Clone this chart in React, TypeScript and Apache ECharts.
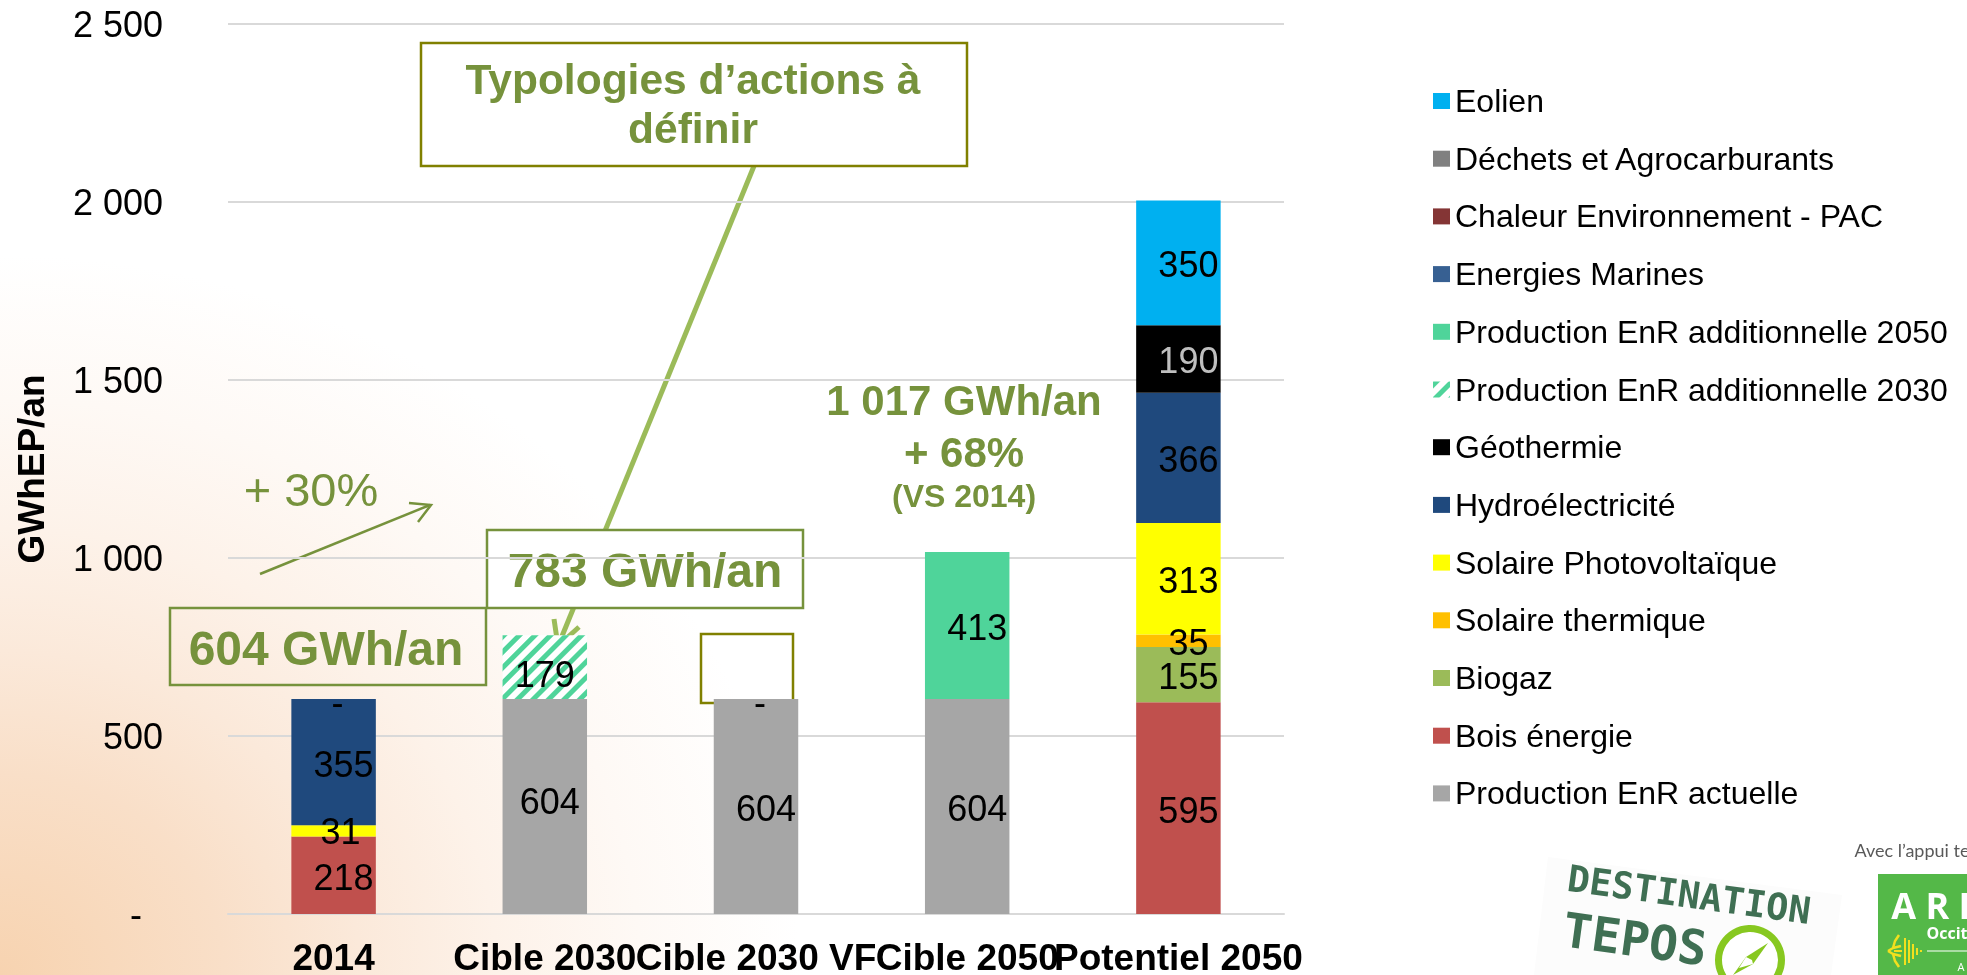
import React, { useEffect, useRef } from "react";
import * as echarts from "echarts";

const FONT = "Liberation Sans";
const categories = ["2014", "Cible 2030", "Cible 2030 VF", "Cible 2050", "Potentiel 2050"];

// Stack order, bottom to top
const productionActuelle = [null, 604, 604, 604, null];
const boisEnergie = [218, null, null, null, 595];
const biogaz = [null, null, null, null, 155];
const solaireThermique = [null, null, null, null, 35];
const solairePV = [31, null, null, null, 313];
const hydro = [355, null, null, null, 366];
const geothermie = [null, null, null, null, 190];
const additionnelle2030 = [0, 179, 0, null, null];
const additionnelle2050 = [null, null, null, 413, null];
const energiesMarines = [null, null, null, null, null];
const chaleurPAC = [null, null, null, null, null];
const dechets = [null, null, null, null, null];
const eolien = [null, null, null, null, 350];

const seriesDefs = [
  { name: "Production EnR actuelle", data: productionActuelle, color: "#a6a6a6" },
  { name: "Bois énergie", data: boisEnergie, color: "#c0504d" },
  { name: "Biogaz", data: biogaz, color: "#9bbb59" },
  { name: "Solaire thermique", data: solaireThermique, color: "#ffc000" },
  { name: "Solaire Photovoltaïque", data: solairePV, color: "#ffff00" },
  { name: "Hydroélectricité", data: hydro, color: "#1f497d" },
  { name: "Géothermie", data: geothermie, color: "#000000", labelColor: "#bfbfbf" },
  { name: "Production EnR additionnelle 2030", data: additionnelle2030, color: "#ffffff", hatch: "#4fd49a" },
  { name: "Production EnR additionnelle 2050", data: additionnelle2050, color: "#4fd49a" },
  { name: "Energies Marines", data: energiesMarines, color: "#376092" },
  { name: "Chaleur Environnement - PAC", data: chaleurPAC, color: "#843535" },
  { name: "Déchets et Agrocarburants", data: dechets, color: "#808080" },
  { name: "Eolien", data: eolien, color: "#00b0f0" },
];

const labelNudge = (value: number, seriesName: string, cat: number): number[] => {
  if (value === 0) return [4, 4];
  if (seriesName === "Production EnR actuelle" && cat === 1) return [5, -5];
  if (seriesName === "Production EnR additionnelle 2030") return [0, 7];
  if (seriesName === "Solaire Photovoltaïque" && cat === 0) return [7, 1];
  return [10, 2];
};

const GREEN = "#76923c";
const OLIVE = "#808000";
const LIGHT = "#9bbb59";
const DARK = "#3f6f53";
const LIME = "#87c820";
const YELLOW = "#f2e01e";

const line = (x1: number, y1: number, x2: number, y2: number, stroke: string, lineWidth: number) => ({
  type: "line",
  shape: { x1, y1, x2, y2 },
  style: { stroke, lineWidth },
});
const poly = (points: number[][], stroke: string, lineWidth: number) => ({
  type: "polyline",
  shape: { points },
  style: { stroke, lineWidth, fill: "none" },
});
const box = (x: number, y: number, width: number, height: number, stroke: string, fill: string) => ({
  type: "rect",
  shape: { x, y, width, height },
  style: { stroke, lineWidth: 2.5, fill },
});
const text = (
  x: number,
  y: number,
  t: string,
  fontSize: number,
  fill: string,
  fontWeight: string = "bold",
  extra: any = {},
  fontFamily: string = FONT
) => ({
  type: "text",
  x,
  y,
  ...extra,
  style: { text: t, fontSize, fontWeight, fontFamily, fill, align: "center", verticalAlign: "middle" },
});

const graphics: any[] = [
  // Connector from the "Typologies" box to the hatched bar
  line(754, 166, 558, 646, LIGHT, 5),
  poly([[554, 619], [558, 646], [579, 627]], LIGHT, 5),
  box(421, 43, 546, 123, OLIVE, "#ffffff"),
  text(693, 79, "Typologies d’actions à", 42.5, GREEN),
  text(693, 128, "définir", 42.5, GREEN),
  box(487, 530, 316, 78, GREEN, "#ffffff"),
  text(645, 570, "783 GWh/an", 48, GREEN),
  box(170, 608, 316, 77, GREEN, "transparent"),
  text(326, 648, "604 GWh/an", 48, GREEN),
  box(701, 634, 92, 69, OLIVE, "transparent"),
  text(311, 489, "+ 30%", 47, GREEN, "normal"),
  line(260, 574, 430, 505, GREEN, 2.5),
  poly([[409, 503], [431, 505], [418, 522]], GREEN, 2.5),
  text(964, 400, "1 017 GWh/an", 42, GREEN),
  text(964, 452, "+ 68%", 42, GREEN),
  text(964, 496, "(VS 2014)", 32, GREEN),
  // Destination TEPOS logo
  { type: "polygon", shape: { points: [[1548, 857], [1842, 895], [1831, 975], [1534, 975]] }, style: { fill: "#fcfcfc" } },
  text(1689, 895, "DESTINATION", 37, DARK, "bold", { rotation: -0.135 }, "DejaVu Sans Mono"),
  text(1635, 939, "TEPOS", 48, DARK, "bold", { rotation: -0.135 }, "DejaVu Sans Mono"),
  { type: "circle", shape: { cx: 1750, cy: 960, r: 31.5 }, style: { stroke: LIME, lineWidth: 7, fill: "#ffffff" } },
  { type: "polygon", shape: { points: [[1768, 943], [1746, 957], [1733, 975], [1753, 964]] }, style: { fill: LIME } },
  { type: "polygon", shape: { points: [[1746, 957], [1739, 968], [1753, 964], [1752, 960]] }, style: { fill: "#ffffff" } },
  // AREC logo
  text(1912, 850, "Avec l’appui te", 18, "#595959", "normal", {}, "Lato"),
  { type: "rect", shape: { x: 1878, y: 874, width: 89, height: 101 }, style: { fill: "#54b848" } },
  text(1935, 905, "A R E", 36, "#ffffff", "bold", {}, "Open Sans"),
  text(1947, 933, "Occit", 16, "#ffffff", "bold", {}, "Open Sans"),
  line(1927, 951, 1967, 951, "#ffffff", 1.2),
  text(1961, 966, "A", 11, "#ffffff", "normal", {}, "Open Sans"),
  line(1905, 938, 1905, 965, YELLOW, 2),
  line(1909, 940, 1909, 963, YELLOW, 2),
  line(1913, 944, 1913, 959, YELLOW, 2),
  line(1917, 948, 1917, 955, YELLOW, 2),
  line(1920, 951, 1922, 951, YELLOW, 2),
  poly([[1888, 951], [1893, 948], [1895, 941], [1899, 935]], YELLOW, 2.5),
  poly([[1888, 951], [1893, 954], [1895, 961], [1899, 967]], YELLOW, 2.5),
  line(1893, 948, 1901, 946, YELLOW, 2.5),
  line(1893, 954, 1901, 956, YELLOW, 2.5),
  line(1894, 951, 1902, 951, YELLOW, 2),
];

export default function App() {
  const ref = useRef<HTMLDivElement>(null);
  useEffect(() => {
    if (!ref.current) return;
    document.body.style.margin = "0";
    const chart = echarts.init(ref.current, undefined, { renderer: "svg" });
    chart.setOption({
      animation: false,
      backgroundColor: "transparent",
      grid: { left: 228, right: 683, top: 24, bottom: 61, outerBoundsMode: "none" },
      legend: {
        orient: "vertical",
        left: 1428,
        top: 78,
        itemWidth: 17,
        itemHeight: 16,
        itemGap: 21.7,
        selectedMode: false,
        icon: "rect",
        data: seriesDefs.map((s) => s.name).reverse(),
        textStyle: { fontFamily: FONT, fontSize: 32, color: "#000", padding: [0, 0, 0, 0], lineHeight: 36 },
        formatter: (n: string) => n,
      },
      xAxis: {
        type: "category",
        data: categories,
        axisTick: { show: false },
        axisLine: { lineStyle: { color: "#d9d9d9", width: 2 } },
        axisLabel: { interval: 0, margin: 25, fontFamily: FONT, fontWeight: "bold", fontSize: 37, color: "#000" },
      },
      yAxis: {
        type: "value",
        min: 0,
        max: 2500,
        interval: 500,
        name: "GWhEP/an",
        nameLocation: "middle",
        nameRotate: 90,
        nameGap: 178,
        nameTextStyle: { fontFamily: FONT, fontWeight: "bold", fontSize: 37, color: "#000" },
        axisLine: { show: false },
        axisTick: { show: false },
        splitLine: { lineStyle: { color: "#d9d9d9", width: 2 } },
        axisLabel: {
          margin: 65,
          fontFamily: FONT,
          fontSize: 36,
          color: "#000",
          formatter: (v: number) => (v === 0 ? "{z|-}" : String(v).replace(/(\d)(\d{3})$/, "$1 $2")),
          rich: { z: { fontFamily: FONT, fontSize: 36, color: "#000", padding: [0, 21, 0, 0] } },
        },
      },
      series: seriesDefs.map((s) => ({
        name: s.name,
        type: "bar",
        stack: "total",
        barWidth: "40%",
        itemStyle: s.hatch
          ? {
              color: s.color,
              decal: {
                symbol: "rect",
                symbolSize: 1,
                dashArrayX: [1, 0],
                dashArrayY: [5, 6],
                rotation: -Math.PI / 4,
                color: s.hatch,
              },
            }
          : { color: s.color },
        data: s.data.map((v, i) =>
          v === null
            ? null
            : {
                value: v,
                label: {
                  show: true,
                  position: "inside",
                  offset: labelNudge(v, s.name, i),
                  formatter: v === 0 ? "-" : String(v),
                  fontFamily: FONT,
                  fontSize: 36,
                  color: s.labelColor || "#000",
                },
              }
        ),
      })),
      graphic: { elements: graphics },
    });
    return () => chart.dispose();
  }, []);
  return (
    <div
      style={{
        position: "fixed",
        left: 0,
        top: 0,
        width: 1967,
        height: 975,
        overflow: "hidden",
        background:
          "radial-gradient(ellipse 800px 720px at 0px 975px, #f7d3b0 0%, #f9dfc8 28%, #fbe9da 45%, #fdf2e9 62%, #fef9f5 80%, #ffffff 100%)",
      }}
    >
      <div ref={ref} style={{ width: 1967, height: 975 }} />
    </div>
  );
}
